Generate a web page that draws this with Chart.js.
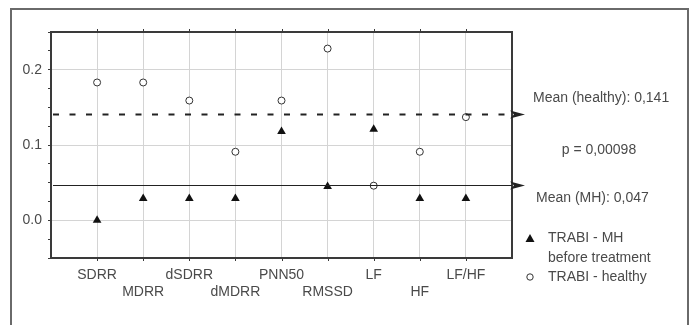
<!DOCTYPE html>
<html>
<head>
<meta charset="utf-8">
<script src="https://cdn.jsdelivr.net/npm/chart.js@4/dist/chart.umd.min.js"></script>
<style>
  html, body { margin: 0; padding: 0; background: #fff; }
  #wrap { width: 698px; height: 325px; position: relative; }
</style>
</head>
<body>
<div id="wrap"><canvas id="c"></canvas></div>
<script>
'use strict';

// data
var categories = ['SDRR', 'MDRR', 'dSDRR', 'dMDRR', 'PNN50', 'RMSSD', 'LF', 'HF', 'LF/HF'];
var healthy = [0.183, 0.183, 0.159, 0.091, 0.159, 0.228, 0.046, 0.091, 0.137];
var mhBefore = [0.0, 0.029, 0.029, 0.029, 0.118, 0.045, 0.121, 0.029, 0.029];
var meanHealthy = 0.141;
var meanMH = 0.047;
var yTickLabels = { '0': '0.0', '0.1': '0.1', '0.2': '0.2' };

var FONT = '"Liberation Sans", Arial, sans-serif';
var TEXT = '#4a4a4a';
var AXIS = '#3a3a3a';

function toPoints(arr) {
    return arr.map(function(v, i) { return { x: i + 1, y: v }; });
}

var decorPlugin = {
    id: 'decor',
    beforeDraw: function(chart) {
        var ctx = chart.ctx;
        ctx.save();
        ctx.fillStyle = '#fff';
        ctx.fillRect(0, 0, chart.width, chart.height);
        // outer frame
        ctx.strokeStyle = '#6a6a6a';
        ctx.lineWidth = 2;
        ctx.beginPath();
        ctx.moveTo(11, chart.height + 2);
        ctx.lineTo(11, 9);
        ctx.lineTo(688, 9);
        ctx.lineTo(688, chart.height + 2);
        ctx.stroke();
        ctx.restore();
    },
    afterDatasetsDraw: function(chart) {
        var ctx = chart.ctx;
        var a = chart.chartArea;
        var xs = chart.scales.x, ys = chart.scales.y;
        ctx.save();

        // plot border
        ctx.strokeStyle = AXIS;
        ctx.lineWidth = 2;
        ctx.strokeRect(a.left, a.top, a.right - a.left, a.bottom - a.top);

        // top / bottom ticks at categories
        ctx.lineWidth = 1;
        for (var i = 1; i <= categories.length; i++) {
            var px = Math.round(xs.getPixelForValue(i)) + 0.5;
            ctx.beginPath();
            ctx.moveTo(px, a.top - 3); ctx.lineTo(px, a.top + 1);
            ctx.moveTo(px, a.bottom - 1); ctx.lineTo(px, a.bottom + 3);
            ctx.stroke();
        }

        // mean lines with arrow heads
        function meanLine(v, dash) {
            var py = Math.round(ys.getPixelForValue(v)) + 0.5;
            ctx.strokeStyle = '#222';
            ctx.lineWidth = dash ? 2.2 : 1.2;
            ctx.setLineDash(dash ? [6, 10.5] : []);
            ctx.beginPath();
            ctx.moveTo(a.left + 2, py);
            ctx.lineTo(a.right, py);
            ctx.stroke();
            ctx.setLineDash([]);
            ctx.fillStyle = '#222';
            ctx.beginPath();
            ctx.moveTo(a.right - 2, py - 4);
            ctx.lineTo(a.right + 13, py);
            ctx.lineTo(a.right - 2, py + 4);
            ctx.lineTo(a.right + 2, py);
            ctx.closePath();
            ctx.fill();
        }
        meanLine(meanHealthy, true);
        meanLine(meanMH, false);

        // right-hand annotations
        ctx.fillStyle = TEXT;
        ctx.font = '14px ' + FONT;
        ctx.textBaseline = 'middle';
        ctx.textAlign = 'left';
        ctx.fillText('Mean (healthy): ' + String(meanHealthy).replace('.', ','), 533, 98);
        ctx.textAlign = 'center';
        ctx.fillText('p = 0,00098', 599, 150);
        ctx.textAlign = 'left';
        ctx.fillText('Mean (MH): ' + String(meanMH).replace('.', ','), 536, 198);

        // legend
        ctx.fillStyle = '#111';
        ctx.beginPath();
        ctx.moveTo(530, 234); ctx.lineTo(534.5, 242); ctx.lineTo(525.5, 242);
        ctx.closePath(); ctx.fill();
        ctx.fillStyle = TEXT;
        ctx.fillText('TRABI - MH', 548, 238);
        ctx.fillText('before treatment', 548, 258);
        ctx.strokeStyle = '#333';
        ctx.lineWidth = 1;
        ctx.beginPath();
        ctx.arc(530, 277, 3.2, 0, Math.PI * 2);
        ctx.stroke();
        ctx.fillText('TRABI - healthy', 548, 277);

        ctx.restore();
    }
};

var ctx = document.getElementById('c').getContext('2d');
new Chart(ctx, {
    type: 'scatter',
    data: {
        datasets: [{
            label: 'TRABI - healthy',
            data: toPoints(healthy),
            pointStyle: 'circle',
            pointRadius: 3.5,
            backgroundColor: '#fff',
            borderColor: '#333',
            borderWidth: 1,
            order: 2
        }, {
            label: 'TRABI - MH before treatment',
            data: toPoints(mhBefore),
            pointStyle: 'triangle',
            pointRadius: 5,
            backgroundColor: '#111',
            borderColor: '#111',
            borderWidth: 0,
            order: 1
        }]
    },
    options: {
        responsive: true,
        maintainAspectRatio: false,
        animation: false,
        events: [],
        layout: { padding: { left: 11, right: 186, top: 32, bottom: 0 } },
        plugins: {
            legend: { display: false },
            tooltip: { enabled: false }
        },
        scales: {
            x: {
                type: 'linear',
                min: 0,
                max: 10,
                border: { display: false },
                grid: {
                    color: function(c) {
                        return (c.tick && c.tick.value > 0 && c.tick.value < 10) ? '#d4d4d4' : 'rgba(0,0,0,0)';
                    },
                    drawTicks: false
                },
                ticks: {
                    stepSize: 1,
                    autoSkip: false,
                    maxRotation: 0,
                    padding: 9,
                    color: TEXT,
                    font: { family: FONT, size: 14 },
                    callback: function(v) {
                        var name = categories[v - 1];
                        if (!name) return '';
                        return (v % 2 === 1) ? [name, ''] : ['', name];
                    }
                },
                afterFit: function(scale) { scale.height = 67; }
            },
            y: {
                min: -0.05,
                max: 0.25,
                border: { display: false },
                grid: {
                    color: function(c) {
                        var v = c.tick ? Math.round(c.tick.value * 1000) / 1000 : null;
                        return (v === 0 || v === 0.1 || v === 0.2) ? '#d4d4d4' : 'rgba(0,0,0,0)';
                    },
                    tickColor: AXIS,
                    tickLength: 3
                },
                ticks: {
                    stepSize: 0.025,
                    autoSkip: false,
                    padding: 6,
                    color: TEXT,
                    font: { family: FONT, size: 14 },
                    callback: function(v) {
                        var k = String(Math.round(v * 1000) / 1000);
                        return yTickLabels[k] || '';
                    }
                },
                afterFit: function(scale) { scale.width = 40; }
            }
        }
    },
    plugins: [decorPlugin]
});
</script>
</body>
</html>
